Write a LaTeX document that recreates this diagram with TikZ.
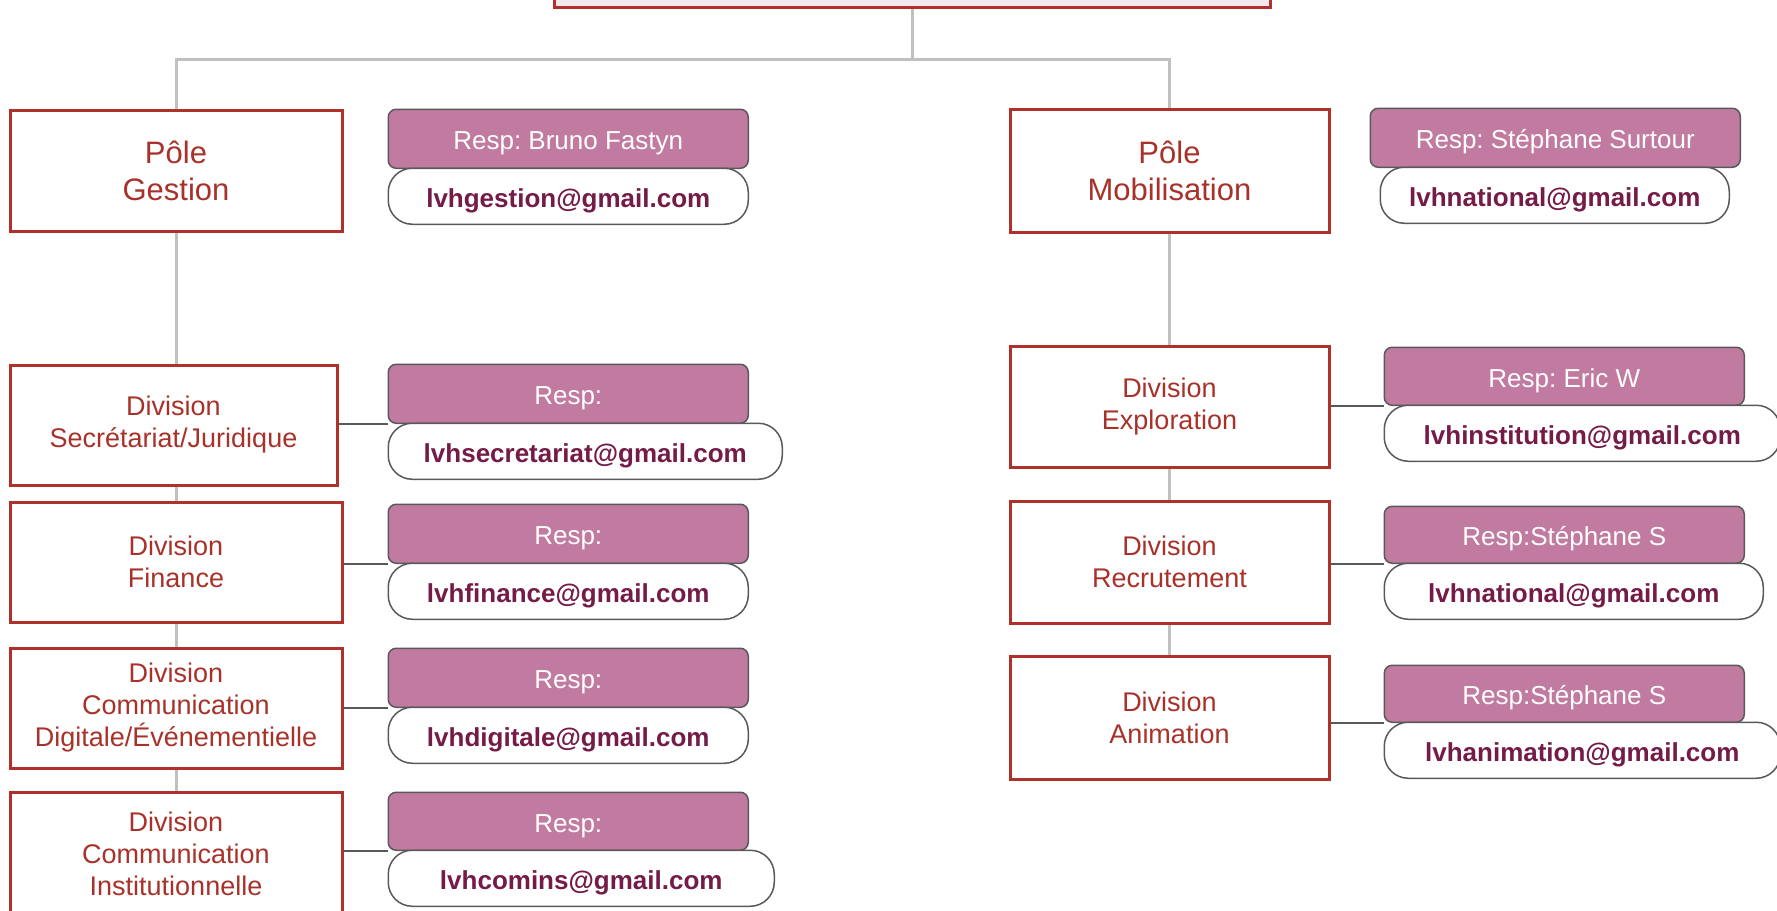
\documentclass[tikz,border=0pt]{standalone}
\usepackage{fontspec}
\setmainfont{Liberation Sans}
\usetikzlibrary{positioning, backgrounds}
\frenchspacing
\definecolor{boxred}{HTML}{B0302A}
\definecolor{titlered}{HTML}{A8322A}
\definecolor{topfill}{HTML}{F4E9EE}
\definecolor{respfill}{HTML}{C27BA0}
\definecolor{respgray}{HTML}{595959}
\definecolor{mailtext}{HTML}{741B47}
\definecolor{treegray}{HTML}{C0C0C0}
\tikzset{
    pole/.style={rectangle, draw=boxred, line width=3pt, fill=white, text=titlered, align=center, inner sep=0pt, minimum width=332pt, minimum height=121pt, font=\fontsize{31}{37}\selectfont},
    division/.style={pole, minimum height=120pt, font=\fontsize{27}{32}\selectfont},
    resp/.style={rectangle, draw=respgray, line width=1.5pt, fill=respfill, text=white, rounded corners=8pt, inner sep=0pt, minimum width=360pt, minimum height=59pt, text height=22pt, text depth=0pt, font=\fontsize{26}{30}\selectfont},
    mail/.style={resp, fill=white, text=mailtext, rounded corners=24pt, minimum height=56pt, font=\fontsize{26}{30}\selectfont\bfseries},
    tree/.style={draw=treegray, line width=3pt},
    link/.style={draw=respgray, line width=2pt},
}
\begin{document}
\begin{tikzpicture}[x=1pt, y=-1pt]
    \useasboundingbox (0,0) rectangle (1777,910);

    \node[draw=boxred, line width=3pt, fill=topfill, minimum width=716pt, minimum height=80pt, anchor=south] (top) at (912,9) {};

    % poles
    \node[pole] (gest) at (176,170.5) {Pôle\\Gestion};
    \node[pole, minimum width=319pt, minimum height=123pt] (mob) at (1169.5,170.5) {Pôle\\Mobilisation};

    \node[resp, right=44pt of gest.north east, anchor=north west] (rgest) {Resp: Bruno Fastyn};
    \node[mail, below=-1.5pt of rgest.south west, anchor=north west] (mgest) {lvhgestion@gmail.com};
    \node[resp, minimum width=370pt, right=39pt of mob.north east, anchor=north west] (rmob) {Resp: Stéphane Surtour};
    \node[mail, minimum width=349pt, below=-1.5pt of rmob.south west, anchor=north west, xshift=10pt] (mmob) {lvhnational@gmail.com};

    % divisions gestion
    \node[division, minimum width=327pt, below=131pt of gest.south west, anchor=north west] (secr) {Division\\Secrétariat/Juridique};
    \node[division, below=14pt of secr.south west, anchor=north west] (fin) {Division\\Finance};
    \node[division, below=23pt of fin.south west, anchor=north west] (dig) {Division\\Communication\\Digitale/Événementielle};
    \node[division, minimum height=124pt, below=21pt of dig.south west, anchor=north west] (inst) {Division\\Communication\\Institutionnelle};

    \node[resp, right=49pt of secr.north east, anchor=north west] (rsecr) {Resp:};
    \node[mail, minimum width=394pt, below=-1.5pt of rsecr.south west, anchor=north west] (msecr) {lvhsecretariat@gmail.com};
    \node[resp, right=44pt of fin.north east, anchor=north west, yshift=-3pt] (rfin) {Resp:};
    \node[mail, below=-1.5pt of rfin.south west, anchor=north west] (mfin) {lvhfinance@gmail.com};
    \node[resp, right=44pt of dig.north east, anchor=north west, yshift=-1pt] (rdig) {Resp:};
    \node[mail, below=-1.5pt of rdig.south west, anchor=north west] (mdig) {lvhdigitale@gmail.com};
    \node[resp, minimum height=58pt, right=44pt of inst.north east, anchor=north west, yshift=-1pt] (rinst) {Resp:};
    \node[mail, minimum width=386pt, below=-1.5pt of rinst.south west, anchor=north west] (minst) {lvhcomins@gmail.com};

    % divisions mobilisation
    \node[division, minimum width=319pt, minimum height=121pt, below=111pt of mob.south west, anchor=north west] (expl) {Division\\Exploration};
    \node[division, minimum width=319pt, minimum height=122pt, below=31pt of expl.south west, anchor=north west] (recr) {Division\\Recrutement};
    \node[division, minimum width=319pt, minimum height=123pt, below=30pt of recr.south west, anchor=north west] (anim) {Division\\Animation};

    \node[resp, minimum height=58pt, right=53pt of expl.north east, anchor=north west, yshift=-2pt] (rexpl) {Resp: Eric W};
    \node[mail, minimum width=396pt, below=-1.5pt of rexpl.south west, anchor=north west] (mexpl) {lvhinstitution@gmail.com};
    \node[resp, minimum height=57pt, right=53pt of recr.north east, anchor=north west, yshift=-6pt] (rrecr) {Resp:Stéphane S};
    \node[mail, minimum width=379pt, below=-1.5pt of rrecr.south west, anchor=north west] (mrecr) {lvhnational@gmail.com};
    \node[resp, minimum height=57pt, right=53pt of anim.north east, anchor=north west, yshift=-10pt] (ranim) {Resp:Stéphane S};
    \node[mail, minimum width=396pt, below=-1.5pt of ranim.south west, anchor=north west] (manim) {lvhanimation@gmail.com};

    % liens
    \foreach \d/\r in {secr/rsecr, fin/rfin, dig/rdig, inst/rinst, expl/rexpl, recr/rrecr, anim/ranim}
        \draw[link] (\d.east |- \r.south) -- (\r.south west);

    \coordinate (bus) at (912,59);
    \begin{scope}[on background layer]
        \draw[tree] (top.south) -- (bus);
        \draw[tree] (gest.north) |- (bus) -| (mob.north);
        \draw[tree] (gest) -- (inst);
        \draw[tree] (mob) -- (anim);
    \end{scope}
\end{tikzpicture}
\end{document}
